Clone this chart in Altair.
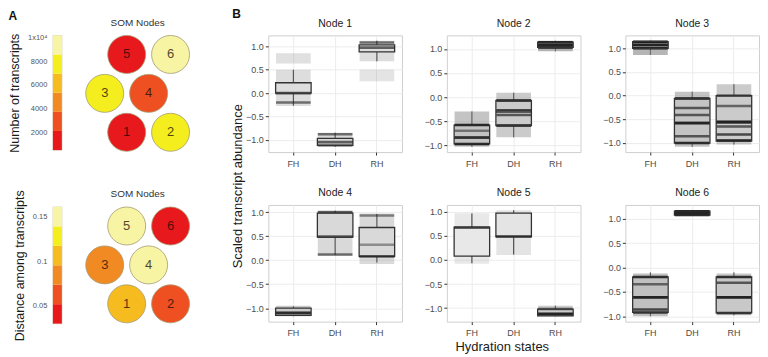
import altair as alt
import pandas as pd

FONT = "Liberation Sans"

# ---------------- Panel A data ----------------
som_ids = [1, 2, 3, 4, 5, 6]
som_col = [1.0, 2.0, 0.5, 1.5, 1.0, 2.0]
som_row = [0, 0, 1, 1, 2, 2]
n_transcripts = [620, 8100, 7700, 2900, 500, 10170]
dist_transcripts = [0.105, 0.062, 0.085, 0.155, 0.161, 0.030]
heat_colors = ["#E8191C", "#EE5021", "#F28A24", "#F6BB1E", "#F4EE1F", "#F7F4A3"]
count_ticks = [2000, 4000, 6000, 8000, 10000]
dist_ticks = [0.05, 0.1, 0.15]

# ---------------- Panel B data ----------------
states = ["FH", "DH", "RH"]
nodes = ["Node 1", "Node 2", "Node 3", "Node 4", "Node 5", "Node 6"]
box_q1 = [[0.00, -1.12, 0.88], [-0.97, -0.59, 1.03], [1.00, -1.00, -0.96],
          [-1.15, 0.48, 0.08], [0.08, 0.48, -1.16], [-0.92, 1.08, -0.93]]
box_med = [[0.00, -1.05, 0.97], [-0.84, -0.30, 1.08], [1.07, -0.58, -0.57],
           [-1.10, 0.49, 0.08], [0.67, 0.49, -1.12], [-0.61, 1.12, -0.61]]
box_q3 = [[0.22, -0.97, 1.03], [-0.58, -0.07, 1.14], [1.14, -0.06, 0.00],
          [-1.00, 0.98, 0.68], [0.68, 0.97, -1.02], [-0.19, 1.16, -0.19]]
whisk_lo = [[-0.27, -1.15, 0.68], [-1.03, -0.83, 0.95], [0.86, -1.08, -1.03],
            [-1.17, 0.11, -0.05], [-0.07, 0.11, -1.17], [-1.00, 1.06, -0.98]]
whisk_hi = [[0.50, -0.85, 1.12], [-0.30, 0.09, 1.17], [1.16, 0.08, 0.24],
            [-0.96, 1.03, 0.96], [0.96, 1.03, -0.95], [-0.10, 1.18, -0.10]]

# point clouds: (state, low, high, relative density)
clouds_n1 = [("FH", -0.28, 0.50, 0.35), ("FH", 0.63, 0.85, 0.30), ("DH", -1.15, -0.85, 0.40),
             ("RH", 0.68, 1.12, 0.35), ("RH", 0.25, 0.50, 0.25)]
clouds_n2 = [("FH", -1.03, -0.30, 0.70), ("DH", -0.83, 0.09, 0.60), ("RH", 0.95, 1.17, 0.90)]
clouds_n3 = [("FH", 0.86, 1.16, 0.90), ("DH", -1.08, 0.08, 0.70), ("RH", -1.03, 0.24, 0.60)]
clouds_n4 = [("FH", -1.17, -0.95, 0.60), ("DH", 0.09, 1.04, 0.40), ("RH", -0.08, 0.97, 0.40)]
clouds_n5 = [("FH", -0.08, 0.97, 0.20), ("DH", 0.10, 1.03, 0.25), ("RH", -1.17, -0.95, 0.60)]
clouds_n6 = [("FH", -1.00, -0.12, 0.75), ("DH", 1.06, 1.18, 1.00), ("RH", -0.98, -0.12, 0.65)]
clouds = [clouds_n1, clouds_n2, clouds_n3, clouds_n4, clouds_n5, clouds_n6]

# values where many transcripts pile up: (state, value, relative weight)
dense_n1 = [("FH", -0.20, 0.5), ("DH", -0.88, 0.5), ("DH", -1.12, 0.5), ("RH", 1.08, 0.5)]
dense_n2 = [("FH", -0.58, 1.0), ("FH", -0.70, 0.4), ("FH", -0.84, 0.7), ("FH", -0.97, 1.0),
            ("DH", -0.07, 1.0), ("DH", -0.27, 0.7), ("DH", -0.37, 0.6), ("DH", -0.59, 1.0),
            ("RH", 1.03, 1.0), ("RH", 1.08, 1.0), ("RH", 1.14, 1.0)]
dense_n3 = [("FH", 1.00, 1.0), ("FH", 1.07, 1.0), ("FH", 1.14, 1.0),
            ("DH", -0.06, 1.0), ("DH", -0.26, 0.6), ("DH", -0.41, 0.6), ("DH", -0.58, 1.0),
            ("DH", -0.86, 0.6), ("DH", -1.00, 1.0),
            ("RH", 0.00, 0.8), ("RH", -0.22, 0.5), ("RH", -0.55, 1.0), ("RH", -0.65, 0.6),
            ("RH", -0.82, 0.7), ("RH", -0.95, 1.0)]
dense_n4 = [("FH", -1.10, 0.8), ("DH", 0.12, 0.5), ("DH", 1.00, 0.6), ("RH", 0.93, 0.4), ("RH", 0.32, 0.3)]
dense_n5 = [("RH", -1.12, 1.0), ("RH", -1.02, 0.5)]
dense_n6 = [("FH", -0.19, 0.9), ("FH", -0.34, 0.5), ("FH", -0.61, 1.0), ("FH", -0.86, 0.7),
            ("FH", -0.92, 0.8), ("DH", 1.08, 1.0), ("DH", 1.12, 1.0), ("DH", 1.16, 1.0),
            ("RH", -0.19, 0.9), ("RH", -0.31, 0.6), ("RH", -0.61, 1.0), ("RH", -0.93, 0.8)]
dense = [dense_n1, dense_n2, dense_n3, dense_n4, dense_n5, dense_n6]

# ---------------- layout constants ----------------
PW, PH = 134, 117
STEP = PW / 3.2
BOX_W = 0.85 * STEP
CLOUD_W = 0.83 * STEP


def colorbar(values, title, ticks, fmt, h, label_expr="", head=""):
    vmin, vmax = min(values), max(values)
    seg = list(range(6))
    df = pd.DataFrame({
        "seg": seg,
        "lo": [vmin + (vmax - vmin) * i / 6 for i in seg],
        "hi": [vmin + (vmax - vmin) * (i + 1) / 6 for i in seg],
    })
    ax_kw = dict(title=title, values=ticks, format=fmt, ticks=False, domain=False, grid=False,
                 labelFontSize=7.5, labelPadding=6, labelColor="#555555",
                 titleFontSize=12.5, titleFontWeight="normal", titleColor="#1a1a1a", titlePadding=6)
    if label_expr:
        ax_kw["labelExpr"] = label_expr
    y = alt.Y("lo:Q", scale=alt.Scale(domain=[vmin, vmax], nice=False, zero=False), axis=alt.Axis(**ax_kw))
    ch = alt.Chart(df).mark_rect().encode(
        y=y, y2="hi:Q",
        color=alt.Color("seg:O", scale=alt.Scale(domain=seg, range=heat_colors), legend=None),
    )
    props = dict(width=9, height=h, view=alt.ViewBackground(stroke="#c4bca4", strokeWidth=0.6))
    if head:
        props["title"] = alt.Title(head, anchor="start", fontSize=12, fontWeight="bold", color="#111111", offset=10)
    return ch.properties(**props)


def som_chart(values):
    df = pd.DataFrame({"id": som_ids, "col": som_col, "row": som_row, "v": values})
    vmin, vmax = min(values), max(values)
    edges = [vmin + (vmax - vmin) * i / 6 for i in range(1, 6)]
    base = alt.Chart(df).encode(
        x=alt.X("col:Q", scale=alt.Scale(domain=[0, 2.5], nice=False, zero=False), axis=None),
        y=alt.Y("row:Q", scale=alt.Scale(domain=[-0.56, 2.49], nice=False, zero=False), axis=None),
    )
    circ = base.mark_circle(size=1450, opacity=1, stroke="#a39c72", strokeWidth=0.8).encode(
        color=alt.Color("v:Q", scale=alt.Scale(type="threshold", domain=edges, range=heat_colors), legend=None)
    )
    txt = base.mark_text(fontSize=13, color="#1a0a05", opacity=0.75).encode(text="id:N")
    return alt.layer(circ, txt).properties(
        width=110, height=119,
        title=alt.Title("SOM Nodes", fontSize=10, color="#333333", fontWeight="normal", offset=6),
        view=alt.ViewBackground(stroke="transparent"),
    )


def node_panel(k):
    bx = pd.DataFrame({"state": states, "q1": box_q1[k], "med": box_med[k], "q3": box_q3[k],
                       "wlo": whisk_lo[k], "whi": whisk_hi[k]})
    cl = pd.DataFrame(clouds[k], columns=["state", "lo", "hi", "dens"])
    ln = pd.DataFrame(dense[k], columns=["state", "v", "w"])
    lo = min(cl["lo"].min(), bx["wlo"].min())
    hi = max(cl["hi"].max(), bx["whi"].max())
    r = hi - lo
    ysc = alt.Scale(domain=[lo - 0.05 * r, hi + 0.05 * r], nice=False, zero=False)
    yax = alt.Axis(values=[-1, -0.5, 0, 0.5, 1], format=".1f", title=None, labelFontSize=9,
                   tickSize=3, tickColor="#333333", labelColor="#4d4d4d", labelPadding=2,
                   domain=False, grid=True, gridColor="#ececec")
    xsc = alt.Scale(type="band", domain=states, paddingInner=0, paddingOuter=0.1)
    xax = alt.Axis(title=None, labelAngle=0, labelFontSize=9, tickSize=3, tickColor="#333333",
                   labelColor="#4d4d4d", labelPadding=4, domain=False, grid=True, gridColor="#ececec")
    X = alt.X("state:N", scale=xsc, axis=xax, sort=states)

    whisk = alt.Chart(bx).mark_rule(color="#333333", strokeWidth=1.1).encode(
        x=X, y=alt.Y("wlo:Q", scale=ysc, axis=yax), y2="whi:Q")
    fill = alt.Chart(bx).mark_bar(size=BOX_W, color="white").encode(
        x=X, y=alt.Y("q1:Q", scale=ysc, axis=yax), y2="q3:Q")
    cloud = alt.Chart(cl).mark_bar(size=CLOUD_W, color="#8c8c8c").encode(
        x=X, y=alt.Y("lo:Q", scale=ysc, axis=yax), y2="hi:Q",
        opacity=alt.Opacity("dens:Q", scale=alt.Scale(domain=[0, 1], range=[0.08, 0.7]), legend=None))
    lines = alt.Chart(ln).mark_tick(size=CLOUD_W, thickness=2.5, color="#1a1a1a").encode(
        x=X, y=alt.Y("v:Q", scale=ysc, axis=yax),
        opacity=alt.Opacity("w:Q", scale=alt.Scale(domain=[0, 1], range=[0.15, 1.0]), legend=None))
    outline = alt.Chart(bx).mark_bar(size=BOX_W, fillOpacity=0, stroke="#333333", strokeWidth=1.3).encode(
        x=X, y=alt.Y("q1:Q", scale=ysc, axis=yax), y2="q3:Q")
    med = alt.Chart(bx).mark_tick(size=BOX_W, thickness=2.8, color="#2a2a2a").encode(
        x=X, y=alt.Y("med:Q", scale=ysc, axis=yax))
    return alt.layer(whisk, fill, cloud, lines, outline, med).resolve_scale(opacity="independent").properties(
        width=PW, height=PH,
        title=alt.Title(nodes[k], fontSize=10.5, fontWeight="normal", color="#222222", offset=6),
    )


cb1 = colorbar(n_transcripts, "Number of transcripts", count_ticks, "d", 115,
               label_expr="datum.value >= 10000 ? '1x10\u2074' : datum.label", head="A")
cb2 = colorbar(dist_transcripts, "Distance among transcripts", dist_ticks, "~g", 117)
a_block = alt.concat(cb1, som_chart(n_transcripts), cb2, som_chart(dist_transcripts),
                     columns=2, bounds="flush", spacing=alt.RowColnumber(row=53, column=21))

grid = alt.concat(*[node_panel(k) for k in range(6)], columns=3, bounds="flush",
                  spacing=alt.RowColnumber(row=53, column=45)).properties(
    title=alt.Title("Hydration states", orient="bottom", anchor="middle", fontSize=13,
                    fontWeight="normal", color="#1a1a1a", offset=3))
b_mid = alt.vconcat(grid).properties(
    title=alt.Title("Scaled transcript abundance", orient="left", anchor="middle", fontSize=13,
                    fontWeight="normal", color="#1a1a1a", offset=0))
b_outer = alt.vconcat(b_mid).properties(
    title=alt.Title("B", anchor="start", fontSize=12, fontWeight="bold", color="#111111", offset=-3))

chart = alt.hconcat(a_block, b_outer, spacing=38).properties(
    padding={"left": 0, "top": 0, "right": 0, "bottom": 0}
).configure(font=FONT).configure_view(stroke="#cfcfcf").configure_title(font=FONT).configure_axis(
    labelFont=FONT, titleFont=FONT)

chart.save("out.html", embed_options={"renderer": "svg", "actions": False})
